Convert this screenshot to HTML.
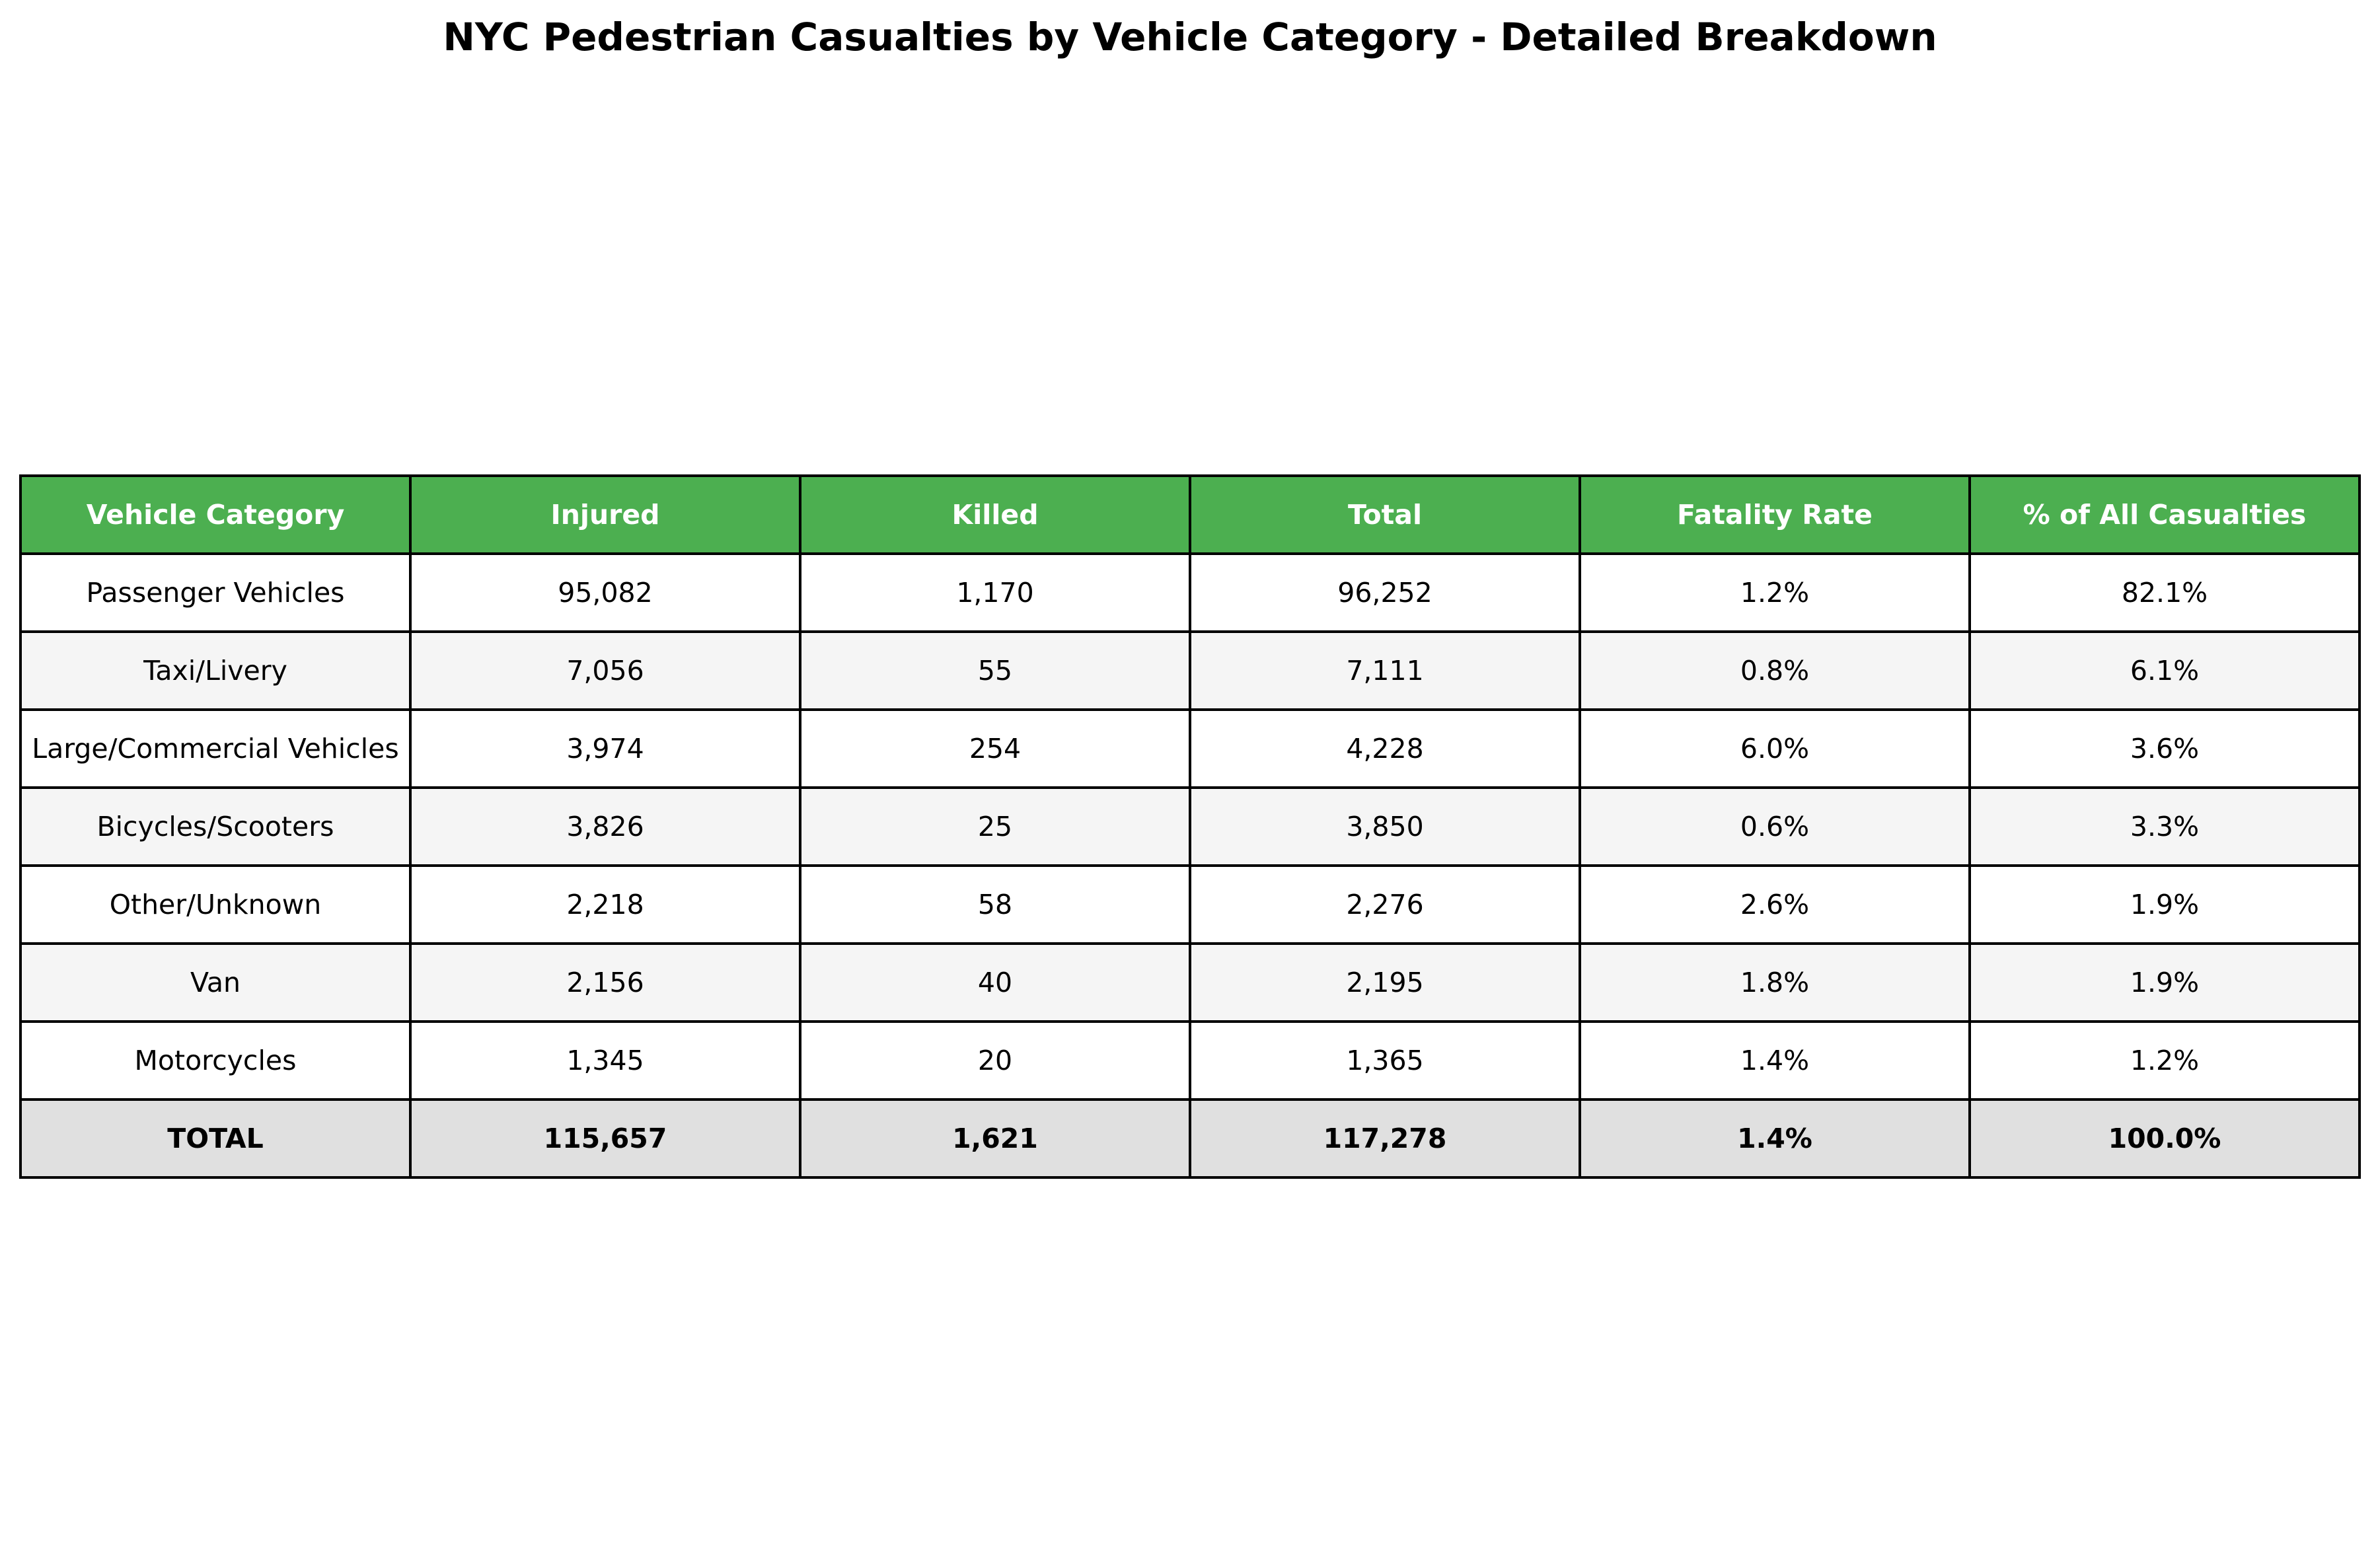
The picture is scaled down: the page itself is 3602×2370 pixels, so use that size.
<!DOCTYPE html>
<html><head><meta charset="utf-8">
<style>
html,body{margin:0;padding:0;background:#fff;}
body{width:3602px;height:2370px;position:relative;overflow:hidden;font-family:"DejaVu Sans","Liberation Sans",sans-serif;}
#title{position:absolute;left:0;width:3602px;top:22px;text-align:center;font-size:58px;font-weight:bold;color:#000;}
table{position:absolute;left:29px;top:718px;border-collapse:collapse;table-layout:fixed;width:3543px;}
td{width:586px;height:114px;border:4px solid #000;text-align:center;vertical-align:middle;font-size:41px;color:#000;padding:0;white-space:nowrap;overflow:hidden;}
tr.head td{background:#4caf50;color:#fff;font-weight:bold;}
tr.alt td{background:#f5f5f5;}
tr.total td{background:#e0e0e0;font-weight:bold;}
</style></head>
<body>
<div id="title">NYC Pedestrian Casualties by Vehicle Category - Detailed Breakdown</div>
<table id="tbl"></table>
<script>
const headers = ["Vehicle Category","Injured","Killed","Total","Fatality Rate","% of All Casualties"];
const categories = ["Passenger Vehicles","Taxi/Livery","Large/Commercial Vehicles","Bicycles/Scooters","Other/Unknown","Van","Motorcycles","TOTAL"];
const injured = ["95,082","7,056","3,974","3,826","2,218","2,156","1,345","115,657"];
const killed = ["1,170","55","254","25","58","40","20","1,621"];
const totals = ["96,252","7,111","4,228","3,850","2,276","2,195","1,365","117,278"];
const fatalityRate = ["1.2%","0.8%","6.0%","0.6%","2.6%","1.8%","1.4%","1.4%"];
const pctAll = ["82.1%","6.1%","3.6%","3.3%","1.9%","1.9%","1.2%","100.0%"];
const tbl = document.getElementById('tbl');
const hr = document.createElement('tr');
hr.className = 'head';


headers.forEach(h => {
  const td = document.createElement('td');
  td.textContent = h;
  
  
  hr.appendChild(td);
});
tbl.appendChild(hr);
categories.forEach((c, i) => {
  const tr = document.createElement('tr');
  if (i === categories.length - 1) tr.className = 'total';
  else if (i % 2 === 1) tr.className = 'alt';
  
  
  [c, injured[i], killed[i], totals[i], fatalityRate[i], pctAll[i]].forEach(v => {
    const td = document.createElement('td');
    td.textContent = v;
    
    
    tr.appendChild(td);
  });
  tbl.appendChild(tr);
});
</script>
</body></html>
